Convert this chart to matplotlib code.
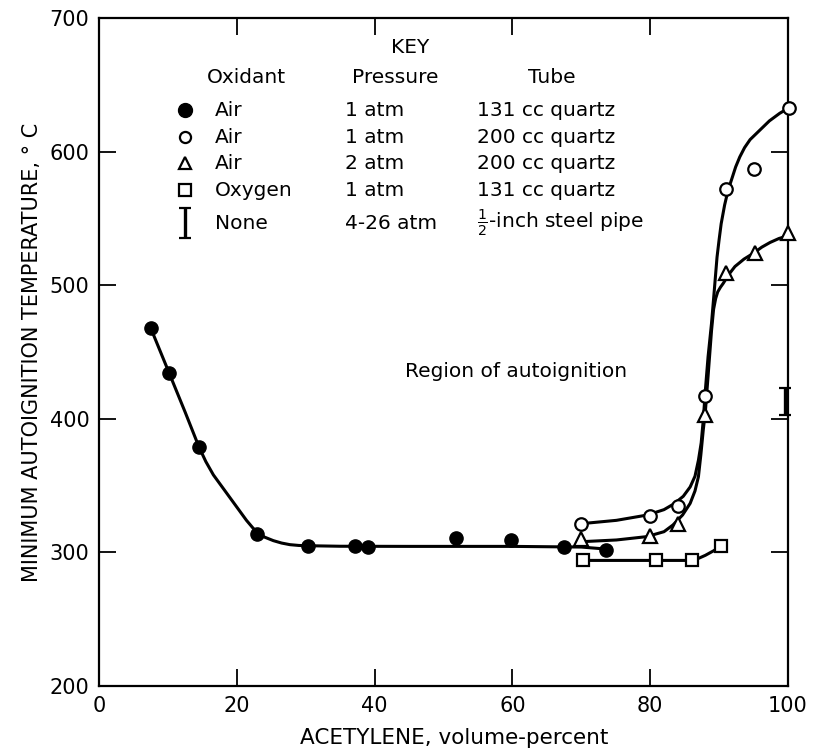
import matplotlib
matplotlib.use("Agg")
import matplotlib.pyplot as plt

# ---- data ----
air1_131_x = [7.5, 10.2, 14.5, 23.0, 30.3, 37.2, 39.1, 51.8, 59.8, 67.5, 73.6]
air1_131_y = [468, 434, 379, 314, 305, 305, 304, 311, 309, 304, 302]

air1_200_x = [70.0, 80.0, 84.0, 88.0, 91.0, 95.0, 100.2]
air1_200_y = [321, 327, 335, 417, 572, 587, 633]

air2_200_x = [70.0, 80.0, 84.0, 88.0, 91.0, 95.2, 100.0]
air2_200_y = [310, 312, 321, 403, 509, 524, 539]

oxy_x = [70.3, 80.8, 86.0, 90.3]
oxy_y = [294, 294, 294, 305]

none_x = [99.6]
none_lo = [403]
none_hi = [423]

# smooth curves drawn through the data
curve_filled_x = [7.5, 10.2, 12.5, 14.5, 15.5, 16.6, 17.8, 19.0, 20.2, 21.4, 22.3, 23.0, 24.0,
                  25.3, 26.5, 27.7, 29.0, 30.3, 35.0, 45.0, 60.0, 70.0, 73.6]
curve_filled_y = [468, 434, 405, 379, 368, 358, 349.5, 341, 332.5, 324, 318.5, 314.8, 311.5,
                  308.8, 307, 305.8, 305.2, 305, 304.6, 304.5, 304.5, 304, 302.5]

curve_open_x = [70.0, 75.1, 79.6, 82.0, 83.5, 84.8, 85.8, 86.5, 87.0, 87.4, 87.7, 88.0, 88.4,
                88.9, 89.3, 89.7, 90.0, 90.3, 90.8, 91.3, 91.9, 92.4, 93.0, 93.7, 94.5, 95.9,
                97.3, 98.8, 100.2]
curve_open_y = [321.5, 324, 328, 332, 336.5, 342, 349, 357, 369, 382, 399, 421, 446.5,
                471.5, 496, 521, 534, 546, 560, 571, 580.5, 588.5, 596, 603, 609, 616,
                623, 628.7, 633]

curve_tri_x = [70.0, 75.1, 79.5, 82.0, 83.3, 84.7, 85.8, 86.5, 87.0, 87.35, 87.7, 88.0, 88.4,
               88.9, 89.2, 89.5, 89.8, 90.2, 90.6, 91.4, 92.3, 93.6, 95.0, 96.2, 97.4,
               98.7, 100.0]
curve_tri_y = [308, 309.3, 311.8, 315.5, 320.5, 328, 336.7, 346, 356.7, 373, 391.6, 405, 432,
               466, 482, 490, 495, 498.5, 501.4, 508, 514, 519.5, 524, 528.5, 532,
               535, 537]

curve_oxy_x = [70.3, 80.8, 86.0, 87.0, 88.0, 89.2, 90.3]
curve_oxy_y = [294, 294, 294, 295.5, 297.8, 301.2, 305]

x_ticks = [0, 20, 40, 60, 80, 100]
y_ticks = [200, 300, 400, 500, 600, 700]

key_oxidant = ["Air", "Air", "Air", "Oxygen", "None"]
key_pressure = ["1 atm", "1 atm", "2 atm", "1 atm", "4-26 atm"]
key_tube = ["131 cc quartz", "200 cc quartz", "200 cc quartz", "131 cc quartz",
            r"$\frac{1}{2}$-inch steel pipe"]

# ---- figure ----
plt.rcParams['font.family'] = ['DejaVu Sans']
fig = plt.figure(figsize=(8.17, 7.48), dpi=100)
ax = fig.add_axes([0.1212, 0.0829, 0.8433, 0.8930])

lw = 2.2
for cx, cy in [(curve_filled_x, curve_filled_y), (curve_open_x, curve_open_y),
               (curve_tri_x, curve_tri_y), (curve_oxy_x, curve_oxy_y)]:
    ax.plot(cx, cy, color='black', lw=lw, zorder=2, solid_joinstyle='round',
            solid_capstyle='round', clip_on=False)

ax.plot(air1_131_x, air1_131_y, 'o', ms=9.5, mfc='black', mec='black', zorder=3, clip_on=False)
ax.plot(air1_200_x, air1_200_y, 'o', ms=9, mfc='white', mec='black', mew=1.6, zorder=3, clip_on=False)
ax.plot(air2_200_x, air2_200_y, '^', ms=10, mfc='white', mec='black', mew=1.6, zorder=3, clip_on=False)
ax.plot(oxy_x, oxy_y, 's', ms=9, mfc='white', mec='black', mew=1.6, zorder=3, clip_on=False)
for x, lo, hi in zip(none_x, none_lo, none_hi):
    eb = ax.errorbar([x], [(lo + hi) / 2], yerr=[[(hi - lo) / 2]], fmt='none',
                     ecolor='black', elinewidth=2.4, capsize=4, capthick=1.6, zorder=3)
    for art in eb.lines[1] + eb.lines[2]:
        art.set_clip_on(False)

ax.set_xlim(0, 100)
ax.set_ylim(200, 700)
ax.set_xticks(x_ticks)
ax.set_yticks(y_ticks)
ax.tick_params(direction='in', length=12, width=1.3, top=True, right=True,
               labelsize=15, pad=7)
for s in ax.spines.values():
    s.set_linewidth(1.6)

ax.set_xlabel("ACETYLENE, volume-percent", fontsize=15.5)
ax.xaxis.set_label_coords((454 - 99) / 689.0, -0.063)
ax.set_ylabel("MINIMUM AUTOIGNITION TEMPERATURE, \u00b0 C", fontsize=15, labelpad=5)

ax.text(0.4435, 0.4705, "Region of autoignition", transform=ax.transAxes,
        fontsize=14.5, va='center', ha='left')

# ---- KEY ----
tA = ax.transAxes
def ax_x(px):
    return (px - 99) / 689.0
def ax_y(py):
    return (686 - py) / 668.0

fs = 14.5
ax.text(ax_x(410), ax_y(47), "KEY", transform=tA, fontsize=fs, ha='center', va='center')
ax.text(ax_x(246), ax_y(77), "Oxidant", transform=tA, fontsize=fs, ha='center', va='center')
ax.text(ax_x(352), ax_y(77), "Pressure", transform=tA, fontsize=fs, ha='left', va='center')
ax.text(ax_x(552), ax_y(77), "Tube", transform=tA, fontsize=fs, ha='center', va='center')

row_y = [110, 137, 163, 190, 223]
markers = [dict(marker='o', ms=10, mfc='black', mec='black'),
           dict(marker='o', ms=8, mfc='white', mec='black', mew=1.6),
           dict(marker='^', ms=9, mfc='white', mec='black', mew=1.6),
           dict(marker='s', ms=9, mfc='white', mec='black', mew=1.6)]
for i in range(5):
    yy = ax_y(row_y[i])
    if i < 4:
        ax.plot([ax_x(185)], [yy], transform=tA, ls='none', clip_on=False, **markers[i])
    else:
        ax.errorbar([ax_x(185)], [yy], yerr=[[0.022]], transform=tA, fmt='none',
                    ecolor='black', elinewidth=2.4, capsize=4, capthick=1.6)
    ax.text(ax_x(215), yy, key_oxidant[i], transform=tA, fontsize=fs, va='center', ha='left')
    ax.text(ax_x(345), yy, key_pressure[i], transform=tA, fontsize=fs, va='center', ha='left')
    ax.text(ax_x(477), yy, key_tube[i], transform=tA, fontsize=fs, va='center', ha='left')

fig.savefig("out.png", dpi=100)
